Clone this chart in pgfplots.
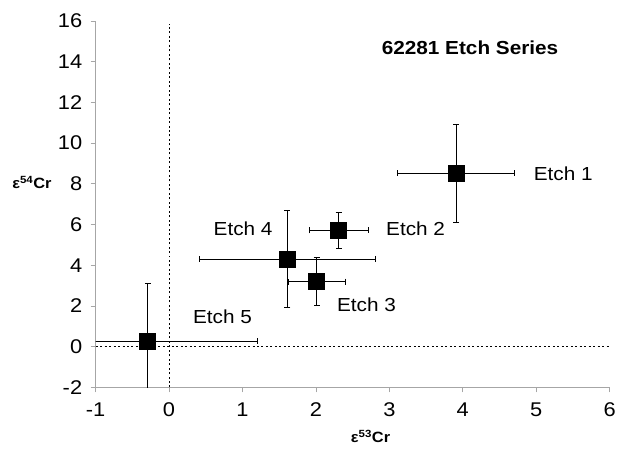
\documentclass[border=0pt]{standalone}
\usepackage{pgfplots}
\pgfplotsset{compat=1.18}
\usepackage{fontspec}
\setmainfont{Liberation Sans}[FakeStretch=1.1]

% 62281 etch series: eps53Cr vs eps54Cr with 2-sigma bars
\pgfplotstableread{
x     y     ex    ey
3.91  8.52  0.80  2.40
2.31  5.72  0.40  0.88
2.01  3.20  0.39  1.18
1.61  4.31  1.20  2.40
-0.29 0.28  1.49  2.84
}\etch

\begin{document}
\begin{tikzpicture}
\begin{axis}[
  name=ax,
  scale only axis,
  width=516bp, height=368bp,
  xmin=-1, xmax=6, ymin=-2, ymax=16,
  xtick={-1,0,...,6},
  ytick={-2,0,...,16},
  axis x line=bottom, axis y line=left,
  axis line style={gray!70,-, line width=0.8bp},
  tick style={gray!70, line width=0.8bp},
  tick align=outside,
  major tick length=5bp,
  tick label style={font=\fontsize{20}{20}\selectfont},
  xticklabel style={yshift=-7bp},
  yticklabel style={xshift=-5bp},
  /pgf/number format/assume math mode=true,
]
\draw[line width=1bp, dash pattern=on 2bp off 2.5bp] (axis cs:0,-2) -- (axis cs:0,15.85);
\draw[line width=1bp, dash pattern=on 2bp off 2.5bp] (axis cs:-1,0) -- (axis cs:6,0);

\addplot+[only marks, mark=square*, mark size=8bp, black,
  mark options={fill=black, line width=0.8bp},
  error bars/.cd,
    x dir=both, x explicit,
    y dir=both, y explicit,
    error bar style={line width=0.9bp, black},
    error mark options={rotate=90, mark size=3bp, line width=0.9bp, black}]
  table[x=x, y=y, x error=ex, y error=ey] {\etch};

\begin{scope}[font=\fontsize{19}{19}\selectfont]
\node[anchor=west] at (axis cs:4.92,8.5) {Etch 1};
\node[anchor=west] at (axis cs:2.91,5.78) {Etch 2};
\node[anchor=west] at (axis cs:2.24,2.06) {Etch 3};
\node[anchor=west] at (axis cs:0.56,5.78) {Etch 4};
\node[anchor=west] at (axis cs:0.28,1.46) {Etch 5};
\end{scope}
\node[anchor=west, font=\fontsize{19}{19}\selectfont\bfseries] at (axis cs:2.85,14.7) {62281 Etch Series};
\end{axis}
\node[font=\fontsize{15}{15}\selectfont\bfseries] at ([shift={(-64bp,206bp)}]ax.south west) {ε\textsuperscript{54}Cr};
\node[font=\fontsize{15}{15}\selectfont\bfseries] at ([shift={(276bp,-49bp)}]ax.south west) {ε\textsuperscript{53}Cr};
\path ([shift={(-96bp,-62bp)}]ax.south west) rectangle ([shift={(7bp,21bp)}]ax.north east);
\end{tikzpicture}
\end{document}
